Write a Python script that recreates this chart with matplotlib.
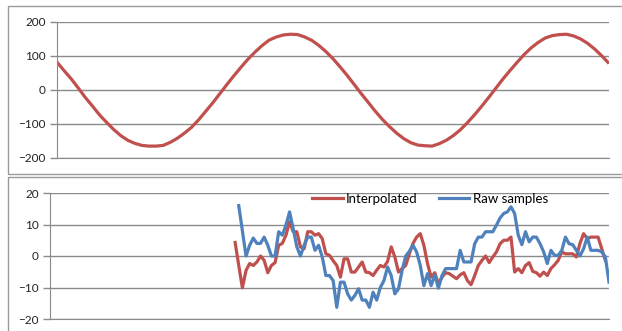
import matplotlib
matplotlib.use("Agg")
import matplotlib.pyplot as plt
import matplotlib.patches as mpatches
import numpy as np

plt.rcParams['font.family'] = ['Lato', 'DejaVu Sans']

# top chart: the smooth signal
signal = [82, 57, 33, 6, -22, -47, -73, -95, -116, -134, -148, -157, -163, -165,
          -165, -163, -154, -142, -127, -110, -88, -63, -38, -11, 16, 42, 67, 91,
          112, 131, 147, 156, 162, 164, 163, 156, 146, 131, 113, 92, 68, 43, 16,
          -11, -37, -63, -87, -108, -127, -143, -155, -162, -164, -165, -158, -148,
          -134, -117, -96, -73, -48, -22, 5, 32, 57, 81, 104, 124, 140, 153, 160,
          163, 164, 159, 150, 137, 120, 100, 78]

# bottom chart: residuals
interpolated = [4.3, -3, -10.1, -4.6, -2.4, -3, -1.9, 0, -1.4, -5.3, -3, -2.1, 3.4, 4,
                6.6, 10.9, 7.7, 7.7, 2.9, 2.3, 7.7, 7.7, 6.6, 7.1, 5.5, 0.7, 0.2, -1.5,
                -3, -6.7, -0.9, -0.9, -5.1, -5.1, -3.5, -1.9, -5.1, -5.3, -6.2, -4.5,
                -3, -3.5, -1.7, 2.9, -0.3, -5.1, -4, -3, 0.7, 4, 6, 7.1, 3.4, -2.4,
                -6.7, -5.3, -8.8, -6.7, -5.3, -5.6, -6.4, -7.2, -6, -5.3, -7.8, -9.1,
                -6.2, -3, -1.4, 0, -2.1, -0.3, 1.3, 3.9, 5, 5, 6, -5.1, -4, -5.3, -3,
                -2.1, -4.9, -5.3, -6.4, -5.1, -6.2, -4, -2.8, -1.4, 1.3, 0.7, 0.7, 0.7,
                -0.3, 4, 7.1, 5.5, 6, 6, 6, 2.3, -1.4]
raw = [16, 8, 0, 3.4, 5.7, 4, 4, 6, 3.4, 0, 0, 7.7, 6.6, 9.8, 14, 8.7, 2.9, 0, 3.4, 6,
       6, 1.8, 3.4, -0.3, -6.2, -6.2, -7.8, -16.3, -8.3, -8.3, -12, -14, -12.5, -10.4,
       -14, -14, -16.3, -11.5, -14, -10, -7.8, -3.5, -6.2, -12, -10.4, -4.6, 0, 1.5,
       3.4, 1.3, -3, -9.4, -5.6, -9.4, -6, -10.2, -6.2, -4, -4, -4, -4, 1.8, -1.9, -1.9,
       -1.9, 3.9, 6, 6, 7.7, 7.7, 7.7, 9.8, 12.1, 13.5, 14, 15.6, 13.5, 6.6, 3.6, 7.7,
       4.5, 6, 6, 3.9, 1.3, -2.4, 1.8, 0.2, 0.2, 1.8, 6, 3.9, 3.6, 1.8, 0, 2.3, 6, 1.8,
       1.8, 1.8, 1.3, -0.3, -8.3]
n_bottom = 155
raw_start = 52
interp_start = 51

red = '#C0504D'
blue = '#4F81BD'
grid_c = '#8a8a8a'
frame_c = '#9a9a9a'

W, H = 622, 331
fig = plt.figure(figsize=(W / 100, H / 100), dpi=100)


def px_axes(left, top, right, bottom):
    return fig.add_axes([left / W, 1 - bottom / H, (right - left) / W, (bottom - top) / H])


def style(ax, ticks):
    ax.set_yticks(ticks)
    ax.set_ylim(ticks[0], ticks[-1])
    ax.yaxis.grid(True, color=grid_c, linewidth=1)
    ax.set_axisbelow(True)
    ax.set_xticks([])
    for s in ['top', 'right']:
        ax.spines[s].set_visible(False)
    ax.spines['left'].set_color(grid_c)
    ax.spines['bottom'].set_color(grid_c)
    ax.tick_params(axis='y', length=5, width=1, color=grid_c, labelsize=8.5,
                   labelcolor='#222222', pad=3)


# outer chart frames
fig.patches.append(mpatches.Rectangle((8 / W, 1 - 174 / H), 1, 168 / H, fill=False,
                                      edgecolor=frame_c, linewidth=1, transform=fig.transFigure))
fig.patches.append(mpatches.Rectangle((8 / W, -0.1), 1, 1 - 177 / H + 0.1, fill=False,
                                      edgecolor=frame_c, linewidth=1, transform=fig.transFigure))

ax1 = px_axes(57, 22, 609, 158)
ax1.plot(np.arange(len(signal)), signal, color=red, linewidth=2.3, solid_capstyle='butt')
ax1.set_xlim(0, len(signal) - 1)
style(ax1, [-200, -100, 0, 100, 200])

ax2 = px_axes(50, 193, 609, 319)
x_raw = np.arange(raw_start, raw_start + len(raw))
x_int = np.arange(interp_start, interp_start + len(interpolated))
ax2.plot(x_int, interpolated, color=red, linewidth=2.3, label='Interpolated')
ax2.plot(x_raw, raw, color=blue, linewidth=2.3, label='Raw samples')
ax2.set_xlim(0, n_bottom - 1)
style(ax2, [-20, -10, 0, 10, 20])
ax2.legend(loc='center', bbox_to_anchor=(0.68, 0.952), ncol=2, frameon=False,
           fontsize=9.5, handlelength=2.3, columnspacing=1.6, handletextpad=0.25,
           borderpad=0, borderaxespad=0)

fig.savefig('out.png', dpi=100)
